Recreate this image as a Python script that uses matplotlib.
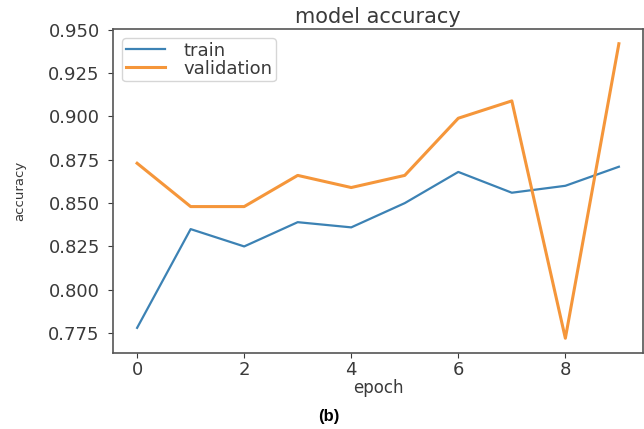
import matplotlib
matplotlib.use("Agg")
import matplotlib.pyplot as plt

epochs = [0, 1, 2, 3, 4, 5, 6, 7, 8, 9]
train_acc = [0.778, 0.835, 0.825, 0.839, 0.836, 0.850, 0.868, 0.856, 0.860, 0.871]
val_acc = [0.873, 0.848, 0.848, 0.866, 0.859, 0.866, 0.899, 0.909, 0.772, 0.942]

plt.rcParams['font.family'] = ['DejaVu Sans']
text_col = '#3a3a3a'

fig = plt.figure(figsize=(6.44, 4.29), dpi=100)
ax = fig.add_axes([0.1755, 0.1772, 0.8229, 0.7552])

ax.plot(epochs, train_acc, color='#3c82b4', lw=1.6, label='train')
ax.plot(epochs, val_acc, color='#f5963a', lw=2.2, label='validation')

ax.set_title('model accuracy', fontsize=15, color=text_col, pad=4)
ax.set_xlabel('epoch', fontsize=12, color=text_col, labelpad=0)
ax.set_ylabel('accuracy', fontsize=9.5, color=text_col, labelpad=16)
ax.set_xticks([0, 2, 4, 6, 8])
ax.set_yticks([0.775, 0.800, 0.825, 0.850, 0.875, 0.900, 0.925, 0.950])
ax.set_yticklabels(['0.775', '0.800', '0.825', '0.850', '0.875', '0.900', '0.925', '0.950'])
ax.tick_params(axis='both', labelsize=13, colors=text_col)
ax.tick_params(axis='y', pad=6)
ax.tick_params(axis='x', pad=2)
for s in ax.spines.values():
    s.set_color('#555555')
    s.set_linewidth(1.2)

leg = ax.legend(loc='upper left', fontsize=13, handlelength=2.2, borderpad=0.2,
                labelspacing=0.0, handletextpad=1.0, framealpha=0.8,
                borderaxespad=0.5)
for t in leg.get_texts():
    t.set_color(text_col)

fig.text(0.51, 0.03, '(b)', ha='center', va='center', fontsize=12,
         fontweight='bold', family='Liberation Sans')

fig.savefig('out.png', dpi=100)
